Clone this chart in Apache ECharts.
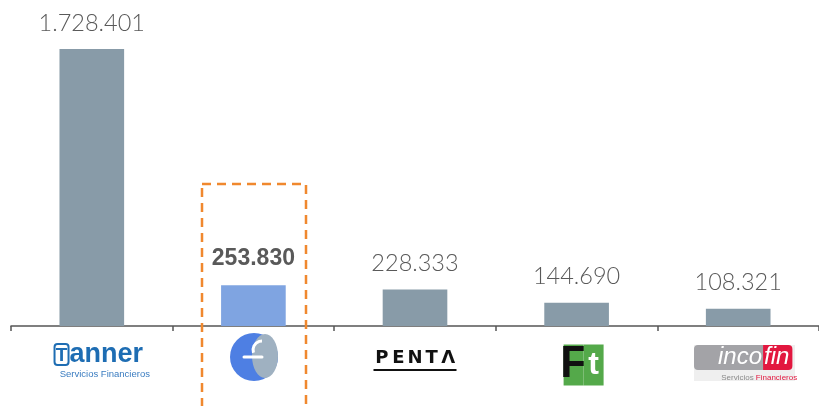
<!DOCTYPE html>
<html>
<head>
<meta charset="utf-8">
<script src="https://cdn.jsdelivr.net/npm/echarts@6/dist/echarts.min.js"></script>
<style>
  html, body { margin: 0; padding: 0; background: #fff; }
  #chart { width: 819px; height: 406px; }
</style>
</head>
<body>
<div id="chart"></div>
<script>
  // data
  var categories = ['Tanner', 'Eurocapital', 'Penta', 'Factotal', 'Incofin'];
  var values = [1728401, 253830, 228333, 144690, 108321];
  var highlight = 1;

  function fmt(v) {
    return String(v).replace(/\B(?=(\d{3})+(?!\d))/g, '.');
  }

  // small nudges for the logo labels
  var labelPad = {
    Tanner: [0, 0, 0, 14],
    Factotal: [0, 0, 0, 14],
    Incofin: [4, 0, 0, 10]
  };

  var chart = echarts.init(document.getElementById('chart'));

  var axisData = categories.map(function (c) {
    return labelPad[c] ? { value: c, textStyle: { padding: labelPad[c] } } : c;
  });

  var barData = values.map(function (v, i) {
    var item = { value: v };
    if (i === highlight) {
      item.itemStyle = { color: '#7FA4E1' };
      item.label = {
        fontFamily: 'Liberation Sans',
        fontWeight: 'bold',
        fontSize: 23,
        distance: 15
      };
    }
    return item;
  });

  var option = {
    animation: false,
    grid: { left: 11, top: 49, width: 812, bottom: 80 },
    xAxis: {
      type: 'category',
      data: axisData,
      axisLine: { lineStyle: { color: '#555', width: 1.5 } },
      axisTick: { show: true, length: 5, lineStyle: { color: '#555', width: 1.5 } },
      axisLabel: {
        margin: 15,
        interval: 0,
        formatter: function (name) {
          if (name === 'Tanner') return '{tb|T}{tn|anner}\n{ts|Servicios Financieros}';
          if (name === 'Penta') return '{p|P}{p|E}{p|N}{p|T}{p|Λ}\n{pu| }';
          if (name === 'Factotal') return '{fa|F}{fb|t}';
          if (name === 'Incofin') return '{ia|inco}{ib|fin}\n{ic|Servicios }{id|Financieros}';
          return '';
        },
        rich: {
          tb: { color: '#1E6DB3', fontFamily: 'Liberation Sans', fontWeight: 'bold', fontSize: 19,
                borderColor: '#1E6DB3', borderWidth: 2, borderRadius: 3, padding: [2, 1, 0, 1], width: 12, height: 19, align: 'center' },
          tn: { color: '#1E6DB3', fontFamily: 'Liberation Sans', fontWeight: 'bold', fontSize: 27, padding: [0, 0, 0, 1] },
          ts: { color: '#3A7CC0', fontFamily: 'Liberation Sans', fontSize: 9.5, padding: [1, 0, 0, 12] },
          p: { color: '#111', fontFamily: 'DejaVu Sans', fontWeight: 'bold', fontSize: 18, width: 16.6,
               align: 'center', padding: [8, 0, 0, 0] },
          pu: { backgroundColor: '#111', width: 83, height: 2, lineHeight: 6, fontSize: 1 },
          fa: { color: '#111', backgroundColor: '#54A94A', fontFamily: 'Liberation Sans', fontWeight: 'bold',
                fontSize: 44, width: 20, height: 41, lineHeight: 41, align: 'right' },
          fb: { color: '#fff', backgroundColor: '#54A94A', fontFamily: 'Liberation Sans', fontWeight: 'bold',
                fontSize: 32, width: 20, height: 41, lineHeight: 48, align: 'left' },
          ia: { color: '#fff', backgroundColor: '#A3A3A7', fontFamily: 'Liberation Sans', fontStyle: 'italic',
                fontSize: 24, height: 25, padding: [0, 1, 0, 24], borderRadius: [4, 0, 0, 4] },
          ib: { color: '#fff', backgroundColor: '#E2173F', fontFamily: 'Liberation Sans', fontStyle: 'italic',
                fontSize: 24, height: 25, padding: [0, 3, 0, 1], borderRadius: [0, 4, 4, 0] },
          ic: { color: '#8A8A8A', fontFamily: 'Liberation Sans', fontSize: 8, padding: [4, 0, 0, 32] },
          id: { color: '#E2173F', fontFamily: 'Liberation Sans', fontSize: 8, padding: [4, 0, 0, 0] }
        }
      }
    },
    yAxis: {
      type: 'value',
      min: 0,
      max: 'dataMax',
      show: false
    },
    series: [{
      type: 'bar',
      data: barData,
      barWidth: '40%',
      itemStyle: { color: '#889BA8' },
      label: {
        show: true,
        position: 'top',
        distance: 14,
        color: '#595959',
        fontFamily: 'Lato',
        fontWeight: 300,
        fontSize: 23.5,
        formatter: function (p) { return fmt(p.value); }
      }
    }],
    graphic: [
      {
        type: 'rect',
        shape: { x: 202, y: 184, width: 104, height: 240 },
        style: { fill: 'none', stroke: '#F0882E', lineWidth: 2.5, lineDash: [9, 6] },
        z: 10
      },
      {
        type: 'rect',
        shape: { x: 694, y: 345, width: 101, height: 36 },
        style: { fill: '#EFEFEF' },
        z: -1
      },
      {
        type: 'circle',
        shape: { cx: 254, cy: 357, r: 24 },
        style: { fill: '#4E7FE3' }
      },
      {
        type: 'ellipse',
        shape: { cx: 265, cy: 356, rx: 13, ry: 22 },
        style: { fill: '#9FB1C1' }
      },
      {
        type: 'line',
        shape: { x1: 244, y1: 357, x2: 262, y2: 357 },
        style: { stroke: '#fff', lineWidth: 3, lineCap: 'round' }
      },
      {
        type: 'arc',
        shape: { cx: 262, cy: 350, r: 9, startAngle: Math.PI * 0.9, endAngle: Math.PI * 1.5 },
        style: { stroke: '#fff', lineWidth: 3, fill: 'none' }
      }
    ]
  };

  chart.setOption(option);
</script>
</body>
</html>
